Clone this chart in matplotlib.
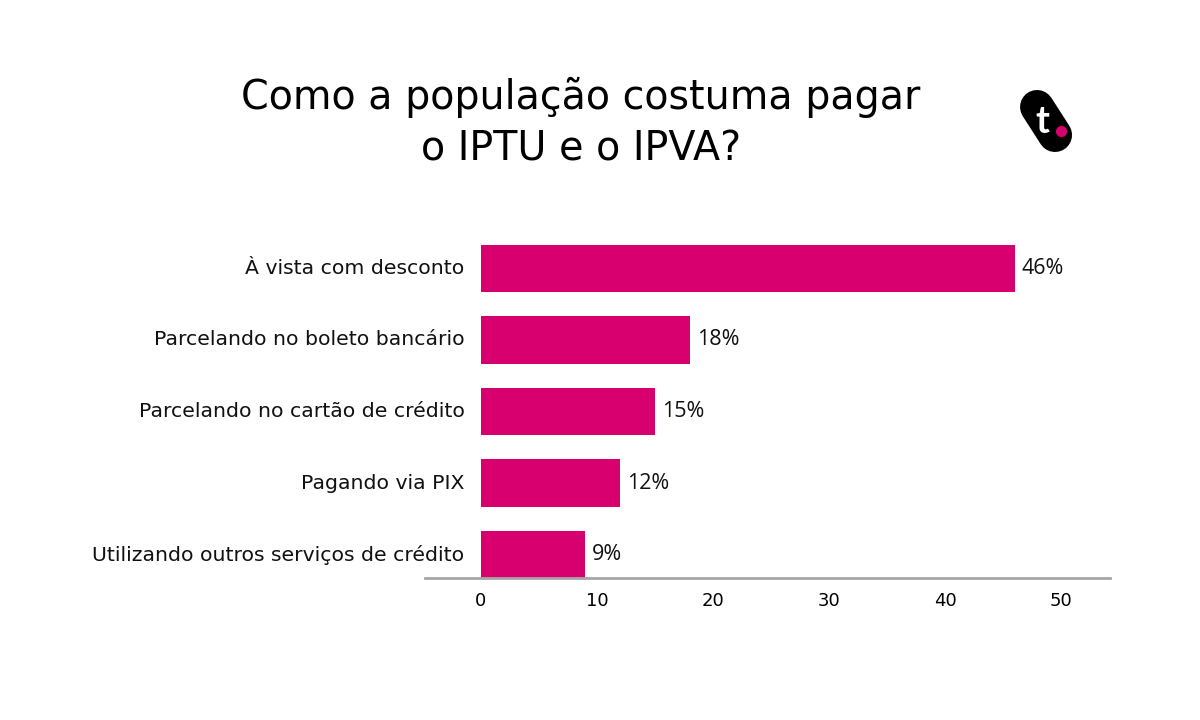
import matplotlib.pyplot as plt
from matplotlib.lines import Line2D

categories = ["À vista com desconto",
              "Parcelando no boleto bancário",
              "Parcelando no cartão de crédito",
              "Pagando via PIX",
              "Utilizando outros serviços de crédito"]
values = [46, 18, 15, 12, 9]
ticks = [0, 10, 20, 30, 40, 50]

pink = "#d8006f"

fig = plt.figure(figsize=(12, 7.2), dpi=100)
ax = fig.add_axes([0.354, 0.197, 0.571, 0.463])

ypos = list(range(len(values)))[::-1]
ax.barh(ypos, values, height=0.66, color=pink)

for y, v in zip(ypos, values):
    ax.text(v + 0.6, y, f"{v}%", va="center", ha="left",
            fontsize=15.5, family="Open Sans", color="#111111")

# category labels sit just left of the bars, inside the axis line span
for y, c in zip(ypos, categories):
    ax.text(-1.4, y, c, va="center", ha="right", fontsize=14.7,
            family="DejaVu Sans", color="#111111")

ax.set_yticks([])
ax.set_xticks(ticks)
ax.set_xticklabels([str(t) for t in ticks], fontsize=13, family="DejaVu Sans")
ax.set_xlim(-4.83, 54.2)
ax.set_ylim(-0.33, 4.33)

for s in ["top", "right", "left"]:
    ax.spines[s].set_visible(False)
ax.spines["bottom"].set_color("#a6a6a6")
ax.spines["bottom"].set_linewidth(2)
ax.tick_params(axis="x", length=0, pad=10)

fig.text(0.484, 0.865, "Como a população costuma pagar", ha="center", va="center",
         fontsize=28.5, family="DejaVu Sans")
fig.text(0.484, 0.792, "o IPTU e o IPVA?", ha="center", va="center",
         fontsize=28.5, family="DejaVu Sans")

# logo
fig.add_artist(Line2D([0.8642, 0.8792], [0.8514, 0.8125], transform=fig.transFigure,
                      lw=24.5, color="black", solid_capstyle="round"))
fig.text(0.8685, 0.831, "t", ha="center", va="center", fontsize=27,
         fontweight="bold", color="white", family="Lato")
fig.add_artist(Line2D([0.8845], [0.818], transform=fig.transFigure, marker="o",
                      markersize=7, color=pink, linestyle="none"))

fig.savefig("out.png")
